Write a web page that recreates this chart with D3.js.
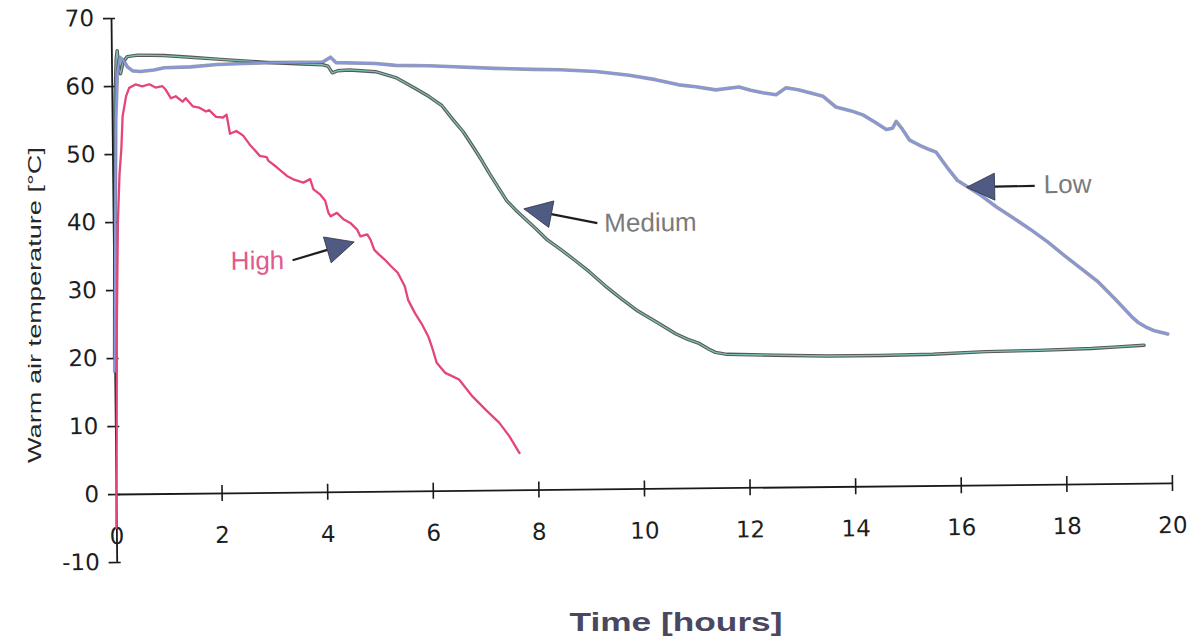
<!DOCTYPE html>
<html>
<head>
<meta charset="utf-8">
<script src="https://cdn.jsdelivr.net/npm/d3@7"></script>
<style>
  body { margin: 0; background: #fff; }
  svg { display: block; }
  text { font-family: "Liberation Sans", Arial, Helvetica, sans-serif; }
</style>
</head>
<body>
<svg id="chart" width="1197" height="636"></svg>
<script>
// Axis ticks
const xTicks = [0, 2, 4, 6, 8, 10, 12, 14, 16, 18, 20];
const yTicks = [-10, 0, 10, 20, 30, 40, 50, 60, 70];

// Warm air temperature [°C] against time [hours] for the three settings
const highSeries = [
  [0, -5], [0.02, 5], [0.05, 25], [0.09, 40], [0.13, 47], [0.17, 50.8], [0.2, 55.5],
  [0.27, 58.5], [0.33, 59.7], [0.45, 60.2], [0.58, 59.9], [0.71, 60.2], [0.83, 59.7],
  [0.96, 59.9], [1.02, 59.4], [1.12, 58.1], [1.21, 58.4], [1.34, 57.6], [1.40, 58.1],
  [1.53, 56.9], [1.65, 56.7], [1.78, 56.1], [1.84, 56.3], [1.97, 55.3], [2.10, 55.2],
  [2.17, 55.6], [2.23, 52.8], [2.35, 53.2], [2.48, 52.5], [2.60, 51.2], [2.79, 49.5],
  [2.92, 49.3], [2.95, 48.8], [3.11, 47.8], [3.30, 46.5], [3.42, 46.0], [3.61, 45.5],
  [3.74, 46.0], [3.80, 44.5], [3.93, 43.7], [4.02, 42.8], [4.08, 41.0], [4.12, 40.5],
  [4.24, 41.0], [4.37, 40.0], [4.49, 39.5], [4.62, 38.5], [4.68, 37.5], [4.81, 37.8],
  [4.87, 37.0], [4.94, 35.5], [5.03, 34.8], [5.13, 34.1], [5.25, 33.1], [5.38, 32.1],
  [5.51, 30.1], [5.57, 28.1], [5.70, 26.1], [5.82, 24.6], [5.95, 22.6], [6.01, 21.2],
  [6.10, 18.8], [6.26, 17.3], [6.52, 16.3], [6.77, 13.8], [7.02, 11.8], [7.27, 9.9],
  [7.46, 7.9], [7.65, 5.4]
];

const mediumSeries = [
  [0, 20], [0.03, 40], [0.06, 58], [0.09, 64], [0.11, 65.2], [0.14, 62.5], [0.17, 61.8],
  [0.22, 63.5], [0.3, 64.3], [0.5, 64.5], [1.0, 64.4], [1.5, 64.1], [2.0, 63.8],
  [2.5, 63.5], [3.0, 63.2], [3.5, 63.0], [4.0, 62.8], [4.1, 62.6], [4.18, 61.6],
  [4.28, 61.9], [4.5, 62.0], [5.0, 61.7], [5.38, 60.8], [5.7, 59.4], [6.0, 58.0],
  [6.25, 56.6], [6.46, 54.5], [6.65, 52.7], [6.84, 50.4], [7.0, 48.4], [7.14, 46.5],
  [7.3, 44.5], [7.46, 42.5], [7.62, 41.2], [7.78, 40.0], [8.0, 38.4], [8.22, 36.7],
  [8.5, 35.1], [8.73, 33.7], [9.0, 32.0], [9.3, 29.9], [9.6, 28.0], [9.92, 26.1],
  [10.3, 24.3], [10.63, 22.7], [10.85, 21.9], [11.06, 21.3], [11.25, 20.4], [11.38, 19.9],
  [11.6, 19.6], [12.5, 19.4], [13.5, 19.2], [14.5, 19.2], [15.5, 19.3], [16.5, 19.6],
  [17.5, 19.7], [18.5, 19.9], [19.0, 20.1], [19.5, 20.3]
];

const lowSeries = [
  [0, 18], [0.03, 35], [0.07, 55], [0.11, 62], [0.16, 64.2], [0.22, 63.8], [0.3, 62.8],
  [0.4, 62.2], [0.55, 62.1], [0.8, 62.3], [1.0, 62.6], [1.5, 62.7], [2.0, 63.0],
  [2.5, 63.1], [3.0, 63.2], [3.5, 63.2], [4.0, 63.2], [4.15, 63.9], [4.25, 63.1],
  [5.0, 62.9], [5.38, 62.6], [6.0, 62.5], [6.5, 62.3], [7.27, 62.0], [8.0, 61.8],
  [8.5, 61.7], [9.17, 61.4], [9.8, 60.8], [10.3, 60.1], [10.74, 59.3], [11.06, 59.0],
  [11.44, 58.5], [11.88, 58.9], [12.1, 58.4], [12.33, 58.0], [12.58, 57.7], [12.77, 58.7],
  [13.0, 58.4], [13.47, 57.4], [13.71, 55.8], [14.0, 55.2], [14.22, 54.6], [14.45, 53.5],
  [14.66, 52.4], [14.78, 52.6], [14.85, 53.6], [14.95, 52.6], [15.1, 50.8], [15.3, 50.0],
  [15.47, 49.4], [15.6, 49.0], [15.8, 46.8], [16.0, 44.8], [16.4, 42.8], [16.74, 40.8],
  [17.05, 39.2], [17.37, 37.5], [17.7, 35.6], [18.01, 33.6], [18.3, 31.8], [18.64, 29.7],
  [18.95, 27.2], [19.26, 24.6], [19.4, 23.6], [19.53, 23.0], [19.7, 22.4], [19.95, 21.9]
];

// Callouts: label text, arrow tip, arrow tail and label anchor (hours, °C)
const calloutLabels = ["High", "Medium", "Low"];
const calloutTips = [[4.56, 36.7], [7.78, 41.3], [16.17, 43.8]];
const calloutTails = [[3.39, 34.1], [9.17, 39.1], [17.46, 43.9]];
const calloutAnchors = [[2.22, 32.8], [9.3, 37.8], [17.63, 42.8]];
const calloutColors = ["#e2598b", "#7a7a7a", "#7a7a7a"];

const svg = d3.select("#chart");

const x = d3.scaleLinear().domain([0, 20]).range([116, 1172]);
const y = d3.scaleLinear().domain([-10, 70]).range([562, 18]);

const tickFont = '"DejaVu Sans", "Liberation Sans", Arial, sans-serif';

// The whole plot sits slightly tilted, as on the printed page
const g = svg.append("g").attr("transform", `rotate(-0.6, ${x(0)}, ${y(0)})`);

// Y axis
const yAxis = g.append("g")
  .attr("transform", `translate(${x(0)},0)`)
  .call(d3.axisLeft(y).tickValues(yTicks).tickSizeInner(8).tickSizeOuter(0)
    .tickPadding(9).tickFormat(d => String(d)));
yAxis.select(".domain").attr("stroke", "#1a1a1a").attr("stroke-width", 1.8);
yAxis.selectAll(".tick line").attr("x1", 4).attr("stroke", "#1a1a1a").attr("stroke-width", 1.6);
yAxis.selectAll(".tick text").attr("font-size", 23).attr("fill", "#1e1e1e")
  .style("font-family", tickFont);

// X axis along the zero line
const xAxis = g.append("g")
  .attr("transform", `translate(0,${y(0)})`)
  .call(d3.axisBottom(x).tickValues(xTicks).tickSizeInner(8).tickSizeOuter(0)
    .tickPadding(26).tickFormat(d => String(d)));
xAxis.select(".domain").attr("stroke", "#1a1a1a").attr("stroke-width", 1.8);
xAxis.selectAll(".tick line").attr("y1", -8).attr("stroke", "#1a1a1a").attr("stroke-width", 1.6)
  .filter(d => d === 0).remove();
xAxis.selectAll(".tick text").attr("font-size", 23).attr("fill", "#1e1e1e")
  .attr("dy", "0.35em").attr("y", 42)
  .style("font-family", tickFont);

// Series
const line = d3.line().x(d => x(d[0])).y(d => y(d[1]));

const plot = g.append("g").attr("fill", "none").attr("stroke-linejoin", "round").attr("stroke-linecap", "round");

// Medium: teal trace with dark edges
plot.append("path").datum(mediumSeries).attr("d", line)
  .attr("stroke", "#2e2e2e").attr("stroke-width", 3.4).attr("stroke-opacity", 0.8);
plot.append("path").datum(mediumSeries).attr("d", line)
  .attr("stroke", "#7cc2b4").attr("stroke-width", 1.3);

// Low: blue trace with dark edges
plot.append("path").datum(lowSeries).attr("d", line)
  .attr("stroke", "#4a4a55").attr("stroke-width", 3.6).attr("stroke-opacity", 0.55);
plot.append("path").datum(lowSeries).attr("d", line)
  .attr("stroke", "#8797dc").attr("stroke-width", 2.2);

// High: pink trace
plot.append("path").datum(highSeries).attr("d", line)
  .attr("stroke", "#e4457b").attr("stroke-width", 2.3);

// Callout arrows and labels
const notes = g.append("g");
calloutLabels.forEach((label, i) => {
  const tip = [x(calloutTips[i][0]), y(calloutTips[i][1])];
  const tail = [x(calloutTails[i][0]), y(calloutTails[i][1])];
  const dx = tip[0] - tail[0], dy = tip[1] - tail[1];
  const len = Math.hypot(dx, dy);
  const ux = dx / len, uy = dy / len;
  const head = 28, half = 13.5;
  const bx = tip[0] - ux * head, by = tip[1] - uy * head;
  const nx = -uy, ny = ux;

  notes.append("line")
    .attr("x1", tail[0]).attr("y1", tail[1]).attr("x2", bx).attr("y2", by)
    .attr("stroke", "#1e1e1e").attr("stroke-width", 2.2);
  notes.append("polygon")
    .attr("points", [
      [tip[0], tip[1]],
      [bx + nx * half, by + ny * half],
      [bx - nx * half, by - ny * half]
    ].map(p => p.join(",")).join(" "))
    .attr("fill", "#4f5b82").attr("stroke", "#2a2f45").attr("stroke-width", 0.8);

  notes.append("text")
    .attr("x", x(calloutAnchors[i][0])).attr("y", y(calloutAnchors[i][1]))
    .attr("font-size", 26).attr("fill", calloutColors[i])
    .text(label);
});

// Axis titles
svg.append("text")
  .attr("transform", "translate(41,305) rotate(-90)")
  .attr("text-anchor", "middle")
  .attr("font-size", 19).attr("fill", "#262626")
  .attr("textLength", 316).attr("lengthAdjust", "spacingAndGlyphs")
  .text("Warm air temperature  [°C]");

svg.append("text")
  .attr("x", 676).attr("y", 631)
  .attr("text-anchor", "middle")
  .attr("font-size", 26).attr("font-weight", "bold").attr("fill", "#4a4760")
  .attr("textLength", 213).attr("lengthAdjust", "spacingAndGlyphs")
  .text("Time  [hours]");
</script>
</body>
</html>
